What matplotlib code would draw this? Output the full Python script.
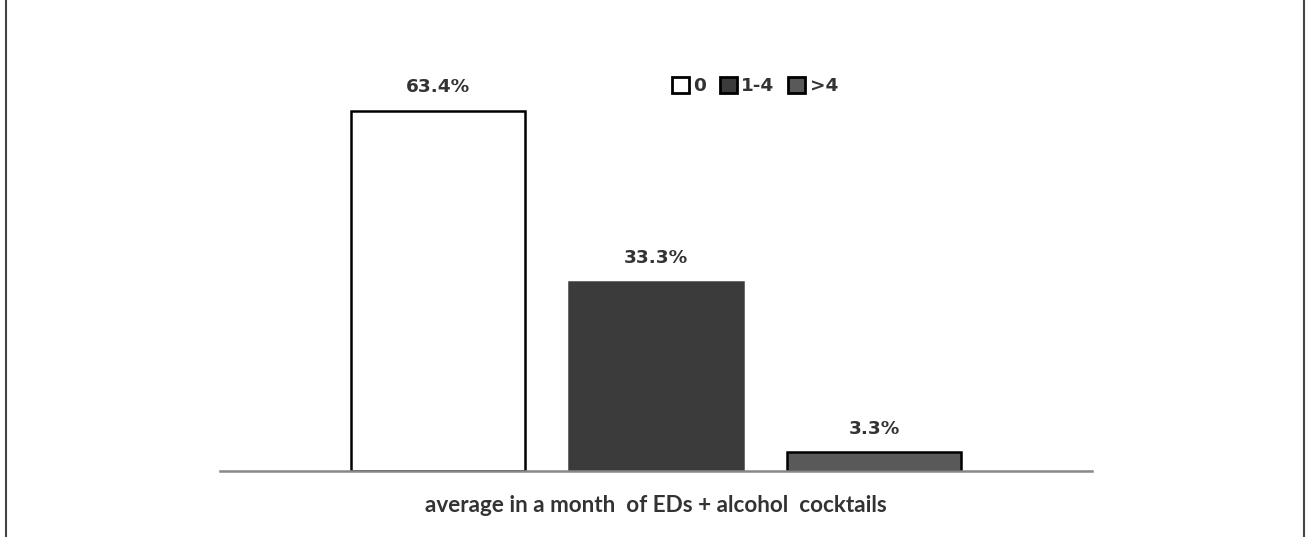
import matplotlib.pyplot as plt
from matplotlib.lines import Line2D
from matplotlib.patches import Patch

# Data
groups = ["0", "1-4", ">4"]
values = [63.4, 33.3, 3.3]
labels = ["63.4%", "33.3%", "3.3%"]
xlabel = "average in a month  of EDs + alcohol  cocktails"

colors = ["white", "#3b3b3b", "#595959"]
edges = ["black", "#3b3b3b", "black"]

plt.rcParams['font.family'] = ['Lato', 'DejaVu Sans']
numfont = dict(family=['DejaVu Sans'], weight='bold', size=13.3)

fig = plt.figure(figsize=(13.06, 5.37), dpi=100)
W, H = 1306, 537
# axes placed in pixel coords: x 220..1092, baseline y 471, top y ~73
ax = fig.add_axes([220 / W, 1 - 471 / H, (1092 - 220) / W, (471 - 73.4) / H])

x = range(len(values))
ax.bar(x, values, width=0.795, color=colors, edgecolor=edges, linewidth=1.8, zorder=2)
for xi, v, lab in zip(x, values, labels):
    ax.annotate(lab, (xi, v), xytext=(0, 17), textcoords="offset points",
                ha="center", va="center", color="#333333", **numfont)

ax.set_xlim(-1.0, 3.0)
ax.set_ylim(0, 70)
for s in ["top", "right", "left"]:
    ax.spines[s].set_visible(False)
ax.spines["bottom"].set_color("#888888")
ax.spines["bottom"].set_linewidth(1.8)
ax.set_yticks([])
ax.set_xticks([])
ax.set_xlabel(xlabel, fontsize=16.2, fontweight="bold", color="#333333", va="center")
ax.xaxis.set_label_coords(0.5, -(505 - 471) / (471 - 73.4))

handles = [Patch(facecolor=c, edgecolor="black", linewidth=2.0) for c in colors]
leg = ax.legend(handles, groups, loc="center", bbox_to_anchor=((755 - 220) / (1092 - 220), (471 - 86) / (471 - 73.4)),
                ncol=3, frameon=False, prop=dict(family=['DejaVu Sans'], weight='bold', size=13.3),
                handlelength=0.9, handleheight=0.95, handletextpad=0.25, columnspacing=0.75)
for t in leg.get_texts():
    t.set_color("#333333")

# figure frame: vertical lines only
fig.add_artist(Line2D([5.5 / W, 5.5 / W], [0, 1], color="#444444", lw=1.5))
fig.add_artist(Line2D([1304 / W, 1304 / W], [0, 1], color="#444444", lw=1.5))

fig.savefig("out.png", dpi=100, facecolor="white")
